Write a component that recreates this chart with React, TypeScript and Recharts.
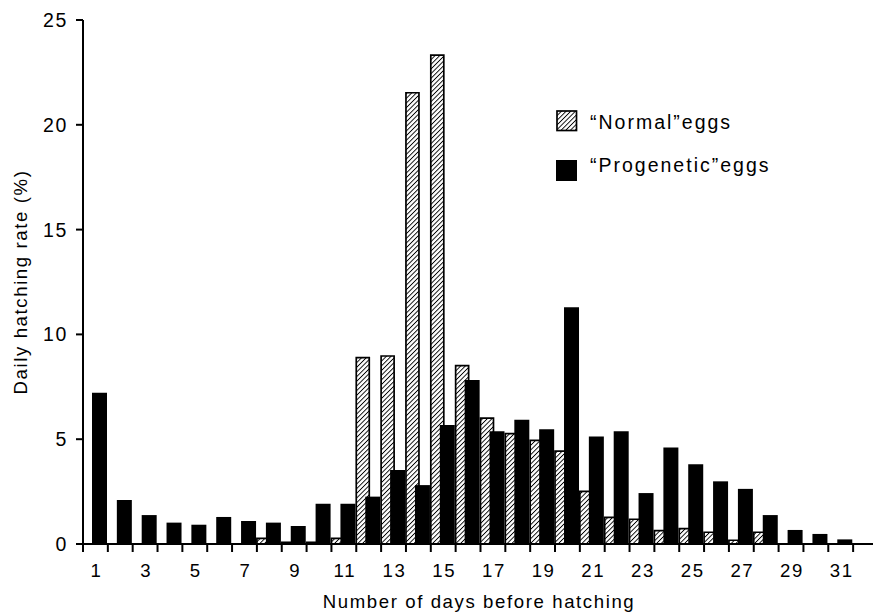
import { Bar, BarChart, XAxis, YAxis } from "recharts";

const days = [1, 2, 3, 4, 5, 6, 7, 8, 9, 10, 11, 12, 13, 14, 15, 16, 17, 18, 19, 20, 21, 22, 23, 24, 25, 26, 27, 28, 29, 30, 31];

// daily hatching rate (%)
const normalEggs = [
  0, 0, 0, 0, 0, 0, 0, 0.27, 0.08, 0.08, 0.27, 8.89, 8.97, 21.53, 23.32, 8.51,
  6.01, 5.27, 4.94, 4.43, 2.51, 1.27, 1.18, 0.64, 0.73, 0.56, 0.18, 0.56, 0, 0, 0,
];
const progeneticEggs = [
  7.22, 2.1, 1.38, 1.02, 0.92, 1.29, 1.1, 1.02, 0.86, 1.92, 1.92, 2.26, 3.53, 2.81, 5.68, 7.82,
  5.38, 5.93, 5.47, 11.3, 5.13, 5.38, 2.43, 4.6, 3.8, 2.99, 2.63, 1.38, 0.67, 0.48, 0.22,
];

const dayLabels = [1, 3, 5, 7, 9, 11, 13, 15, 17, 19, 21, 23, 25, 27, 29, 31];
const dayEdges = [
  0.5, 1.5, 2.5, 3.5, 4.5, 5.5, 6.5, 7.5, 8.5, 9.5, 10.5, 11.5, 12.5, 13.5, 14.5, 15.5,
  16.5, 17.5, 18.5, 19.5, 20.5, 21.5, 22.5, 23.5, 24.5, 25.5, 26.5, 27.5, 28.5, 29.5, 30.5, 31.5,
];
const rateTicks = [0, 5, 10, 15, 20, 25];

const data = days.map((day, i) => ({ day, normal: normalEggs[i], progenetic: progeneticEggs[i] }));
const xTicks = [...dayEdges, ...dayLabels].sort((a, b) => a - b);

const FONT = '"Liberation Sans", Arial, Helvetica, sans-serif';
const textStyle = { fontFamily: FONT, fontSize: 18.6, letterSpacing: 1.6, fill: "#000" };
const legendStyle = { ...textStyle, fontSize: 19.5, letterSpacing: 2 };

function DayTick({ x, y, payload }: any) {
  const v = payload.value as number;
  if (!Number.isInteger(v)) {
    return <line x1={x} x2={x} y1={y} y2={y + 8} stroke="#000" strokeWidth={2} />;
  }
  if (!dayLabels.includes(v)) return null;
  return (
    <text x={x + 1} y={y + 33} textAnchor="middle" style={textStyle}>
      {v}
    </text>
  );
}

export default function App() {
  return (
    <div style={{ position: "absolute", left: 0, top: 0, background: "#fff" }}>
      <BarChart
        width={873}
        height={614}
        data={data}
        margin={{ top: 20, right: 0, left: 0, bottom: 0 }}
        barGap={-4}
      >
        <defs>
          <pattern id="hatch" patternUnits="userSpaceOnUse" width={3.3} height={3.3} patternTransform="rotate(45)">
            <rect width={3.3} height={3.3} fill="#fff" />
            <line x1={0} y1={0} x2={0} y2={3.3} stroke="#000" strokeWidth={1.8} />
          </pattern>
        </defs>
        <XAxis
          dataKey="day"
          type="number"
          domain={[0.5, 32.3]}
          ticks={xTicks}
          interval={0}
          tick={<DayTick />}
          tickLine={false}
          tickSize={0}
          tickMargin={0}
          axisLine={{ stroke: "#000", strokeWidth: 2 }}
          height={70}
        />
        <YAxis
          domain={[0, 25]}
          ticks={rateTicks}
          interval={0}
          width={83}
          tickSize={7}
          tickMargin={8}
          tick={{ ...textStyle, fontSize: 19.5 }}
          tickLine={{ stroke: "#000", strokeWidth: 2 }}
          axisLine={{ stroke: "#000", strokeWidth: 2 }}
        />
        <Bar dataKey="normal" barSize={13} fill="url(#hatch)" stroke="#000" strokeWidth={1.7} isAnimationActive={false} />
        <Bar dataKey="progenetic" barSize={15} fill="#000" isAnimationActive={false} />

        <text x={479} y={608} textAnchor="middle" style={textStyle}>
          Number of days before hatching
        </text>
        <text x={27} y={282} textAnchor="middle" transform="rotate(-90 27 282)" style={textStyle}>
          Daily hatching rate (%)
        </text>

        <g>
          <rect x={557} y={111} width={19.5} height={19.5} fill="url(#hatch)" stroke="#000" strokeWidth={1.7} />
          <text x={590} y={129} style={legendStyle}>
            “Normal”eggs
          </text>
          <rect x={556} y={160} width={21} height={21} fill="#000" />
          <text x={590} y={172} style={legendStyle}>
            “Progenetic”eggs
          </text>
        </g>
      </BarChart>
    </div>
  );
}
